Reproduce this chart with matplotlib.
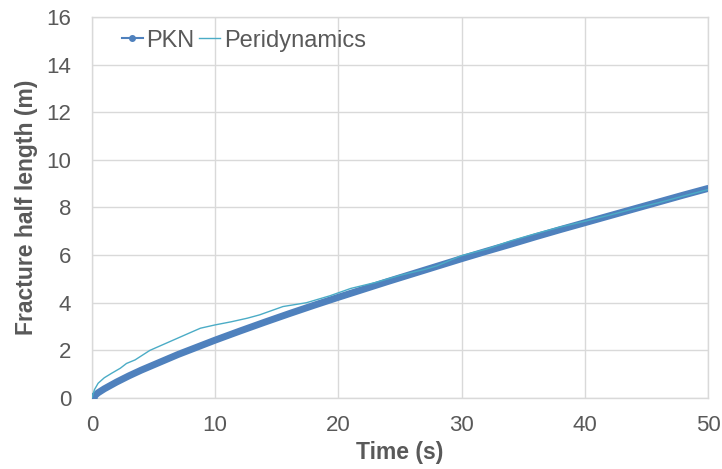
import matplotlib
matplotlib.use("Agg")
import matplotlib.pyplot as plt
from matplotlib.lines import Line2D

plt.rcParams['font.family'] = ['Liberation Sans', 'DejaVu Sans']

pkn_t = [0, 0.5, 1, 2, 3, 4, 5, 6, 7, 8, 9, 10, 12, 14, 16, 18, 20, 22, 24, 26, 28,
         30, 32, 34, 36, 38, 40, 42, 44, 46, 48, 50]
pkn_l = [0, 0.22, 0.385, 0.67, 0.93, 1.17, 1.39, 1.61, 1.83, 2.03, 2.23, 2.43, 2.81,
         3.18, 3.54, 3.89, 4.23, 4.56, 4.89, 5.21, 5.53, 5.85, 6.16, 6.46, 6.77, 7.07,
         7.36, 7.65, 7.94, 8.23, 8.52, 8.80]

peri_t = [0, 0.2, 0.5, 1, 1.6, 2.3, 2.8, 3.5, 4.7, 5.8, 6.9, 8.0, 8.8, 10, 11.3, 12.6,
          13.6, 15.5, 17.4, 19.3, 21, 23, 25, 27, 28, 30, 32, 34, 36, 38, 40, 42, 44,
          46, 48, 50]
peri_l = [0, 0.35, 0.62, 0.85, 1.04, 1.25, 1.45, 1.6, 2.0, 2.25, 2.5, 2.75, 2.93, 3.07,
          3.2, 3.35, 3.49, 3.84, 4.0, 4.29, 4.6, 4.85, 5.15, 5.4, 5.55, 5.98, 6.25, 6.6,
          6.9, 7.18, 7.42, 7.68, 7.95, 8.2, 8.48, 8.75]

x_ticks = [0, 10, 20, 30, 40, 50]
y_ticks = [0, 2, 4, 6, 8, 10, 12, 14, 16]

pkn_color = '#4F81BD'
peri_color = '#4BACC6'
grid_color = '#D9D9D9'
text_color = '#595959'

fig = plt.figure(figsize=(7.22, 4.69), dpi=100)
ax = fig.add_axes([0.1274, 0.1514, 0.8532, 0.8124])

ax.plot(pkn_t, pkn_l, color=pkn_color, lw=5.0, solid_capstyle='round',
        solid_joinstyle='round', zorder=3)
ax.plot(pkn_t[0], pkn_l[0], 'o', color=pkn_color, ms=6.5, zorder=3)
ax.plot(peri_t, peri_l, color=peri_color, lw=1.0, zorder=4)

ax.set_xlim(0, 50)
ax.set_ylim(0, 16)
ax.set_xticks(x_ticks)
ax.set_yticks(y_ticks)
ax.grid(True, color=grid_color, lw=1)
ax.set_axisbelow(True)
for s in ax.spines.values():
    s.set_color(grid_color)
    s.set_linewidth(1)
ax.tick_params(length=0, labelsize=16, labelcolor=text_color)
ax.tick_params(axis='y', pad=15)
ax.tick_params(axis='x', pad=12)

ax.set_xlabel('Time (s)', fontsize=16.5, fontweight='bold', color=text_color, labelpad=4)
ax.set_ylabel('Fracture half length (m)', fontsize=16.5, fontweight='bold',
              color=text_color, labelpad=6)

handles = [Line2D([], [], color=pkn_color, lw=1.5, marker='o', ms=4),
           Line2D([], [], color=peri_color, lw=1.0)]
leg = ax.legend(handles, ['PKN', 'Peridynamics'], loc='upper left',
                bbox_to_anchor=(0.048, 0.967), ncol=2, frameon=False, fontsize=17,
                handlelength=0.9, handletextpad=0.15, columnspacing=0.2,
                borderpad=0, borderaxespad=0)
for t in leg.get_texts():
    t.set_color(text_color)

fig.savefig('out.png', dpi=100)
